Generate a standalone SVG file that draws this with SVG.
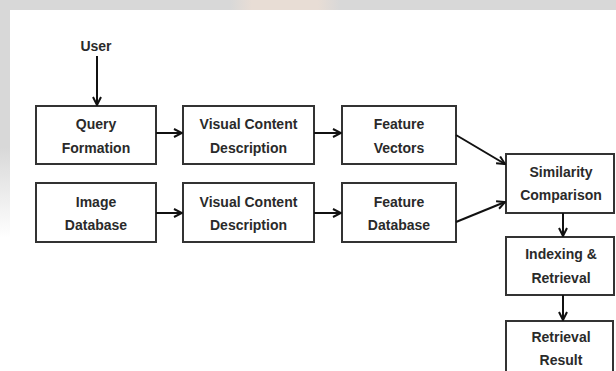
<svg xmlns="http://www.w3.org/2000/svg" width="616" height="371" viewBox="0 0 616 371">
  <defs>
    <style>
      .box { fill: #ffffff; stroke: #333333; stroke-width: 2; }
      .lbl { font-family: "Liberation Sans", Arial, sans-serif; font-weight: bold; font-size: 14px; fill: #2a2a2a; text-anchor: middle; }
      .conn { stroke: #111111; stroke-width: 2; fill: none; marker-end: url(#arr); }
    </style>
    <marker id="arr" viewBox="0 0 10 10" refX="9" refY="5" markerWidth="10" markerHeight="10" markerUnits="userSpaceOnUse" orient="auto">
      <path d="M1,1 L9,5 L1,9" fill="none" stroke="#111111" stroke-width="2"/>
    </marker>
    <linearGradient id="leftfade" x1="0" y1="0" x2="0" y2="1">
      <stop offset="0" stop-color="#d8d8d8"/>
      <stop offset="0.6" stop-color="#d8d8d8"/>
      <stop offset="1" stop-color="#ffffff"/>
    </linearGradient>
    <linearGradient id="peach" x1="0" y1="0" x2="1" y2="0">
      <stop offset="0" stop-color="#d8d8d8"/>
      <stop offset="0.2" stop-color="#e8ddd5"/>
      <stop offset="0.8" stop-color="#e8ddd5"/>
      <stop offset="1" stop-color="#d8d8d8"/>
    </linearGradient>
  </defs>

  <rect x="0" y="0" width="616" height="371" fill="#ffffff"/>
  <rect x="0" y="0" width="616" height="10" fill="#d8d8d8"/>
  <rect x="230" y="0" width="110" height="10" fill="url(#peach)"/>
  <rect x="0" y="10" width="10" height="228" fill="url(#leftfade)"/>

  <g id="user">
    <text class="lbl" x="96" y="51">User</text>
  </g>

  <g id="query-formation">
    <rect class="box" x="36" y="106" width="120" height="58"/>
    <text class="lbl" x="96" y="129">Query</text>
    <text class="lbl" x="96" y="153">Formation</text>
  </g>

  <g id="vcd-1">
    <rect class="box" x="183" y="106" width="131" height="58"/>
    <text class="lbl" x="248.5" y="129">Visual Content</text>
    <text class="lbl" x="248.5" y="153">Description</text>
  </g>

  <g id="feature-vectors">
    <rect class="box" x="342" y="106" width="114" height="58"/>
    <text class="lbl" x="399" y="129">Feature</text>
    <text class="lbl" x="399" y="153">Vectors</text>
  </g>

  <g id="image-database">
    <rect class="box" x="36" y="183" width="120" height="59"/>
    <text class="lbl" x="96" y="207">Image</text>
    <text class="lbl" x="96" y="230">Database</text>
  </g>

  <g id="vcd-2">
    <rect class="box" x="183" y="183" width="131" height="59"/>
    <text class="lbl" x="248.5" y="207">Visual Content</text>
    <text class="lbl" x="248.5" y="230">Description</text>
  </g>

  <g id="feature-database">
    <rect class="box" x="342" y="183" width="114" height="59"/>
    <text class="lbl" x="399" y="207">Feature</text>
    <text class="lbl" x="399" y="230">Database</text>
  </g>

  <g id="similarity-comparison">
    <rect class="box" x="506" y="154" width="108" height="59"/>
    <text class="lbl" x="561" y="177">Similarity</text>
    <text class="lbl" x="561" y="200">Comparison</text>
  </g>

  <g id="indexing-retrieval">
    <rect class="box" x="506" y="237" width="108" height="58"/>
    <text class="lbl" x="561" y="259">Indexing &amp;</text>
    <text class="lbl" x="561" y="283">Retrieval</text>
  </g>

  <g id="retrieval-result">
    <rect class="box" x="506" y="321" width="107" height="60"/>
    <text class="lbl" x="561" y="342">Retrieval</text>
    <text class="lbl" x="561" y="365">Result</text>
  </g>

  <g id="connectors">
    <line class="conn" x1="97" y1="56" x2="97" y2="105"/>
    <line class="conn" x1="156" y1="133" x2="182" y2="133"/>
    <line class="conn" x1="314" y1="133" x2="341" y2="133"/>
    <line class="conn" x1="156" y1="213" x2="182" y2="213"/>
    <line class="conn" x1="314" y1="213" x2="341" y2="213"/>
    <line class="conn" x1="456" y1="135" x2="505" y2="164"/>
    <line class="conn" x1="456" y1="222" x2="505" y2="202"/>
    <line class="conn" x1="563" y1="213" x2="563" y2="236"/>
    <line class="conn" x1="563" y1="295" x2="563" y2="320"/>
  </g>
</svg>
